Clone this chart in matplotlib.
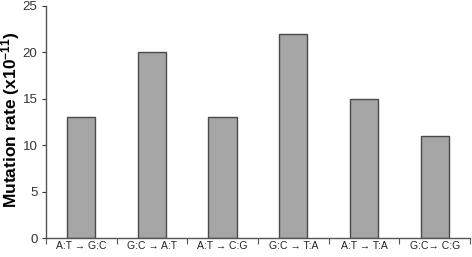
import matplotlib
matplotlib.use('Agg')
import matplotlib.pyplot as plt
import numpy as np

# data
categories = ['A:T → G:C', 'G:C → A:T', 'A:T → C:G', 'G:C → T:A', 'A:T → T:A', 'G:C→ C:G']
rates = [13, 20, 13, 22, 15, 11]
y_ticks = [0, 5, 10, 15, 20, 25]

plt.rcParams['font.family'] = ['Liberation Sans', 'DejaVu Sans']
plt.rcParams['mathtext.default'] = 'regular'

fig = plt.figure(figsize=(4.72, 2.57), dpi=100)
ax = fig.add_axes([0.097, 0.073, 0.899, 0.904])

x = np.arange(len(categories))
ax.bar(x, rates, width=0.4, color='#a6a6a6', edgecolor='#4a4a4a', linewidth=1.0)

ax.set_xlim(-0.5, len(categories) - 0.5)
ax.set_ylim(0, 25)
ax.set_yticks(y_ticks)
ax.tick_params(axis='y', labelsize=9.5, length=3, direction='out', colors='#333333', pad=3)

# ticks between categories, labels at centres
ax.set_xticks(np.arange(len(categories) + 1) - 0.5)
ax.set_xticklabels([])
ax.set_xticks(x, minor=True)
ax.set_xticklabels(categories, minor=True)
ax.tick_params(axis='x', which='major', length=4, direction='out', color='#555555')
ax.tick_params(axis='x', which='minor', length=0, labelsize=7.5, pad=2, colors='#222222')

for s in ['top', 'right']:
    ax.spines[s].set_visible(False)
for s in ['left', 'bottom']:
    ax.spines[s].set_color('#555555')
    ax.spines[s].set_linewidth(1.0)

# y label placed in figure coords so it sits fully inside the left margin
fig.text(10.5 / 472, 1 - 119.5 / 257, 'Mutation rate (x10$^{-11}$)', rotation=90,
         ha='center', va='center', fontsize=12.5, fontweight='bold')

fig.savefig('out.png', dpi=100)
